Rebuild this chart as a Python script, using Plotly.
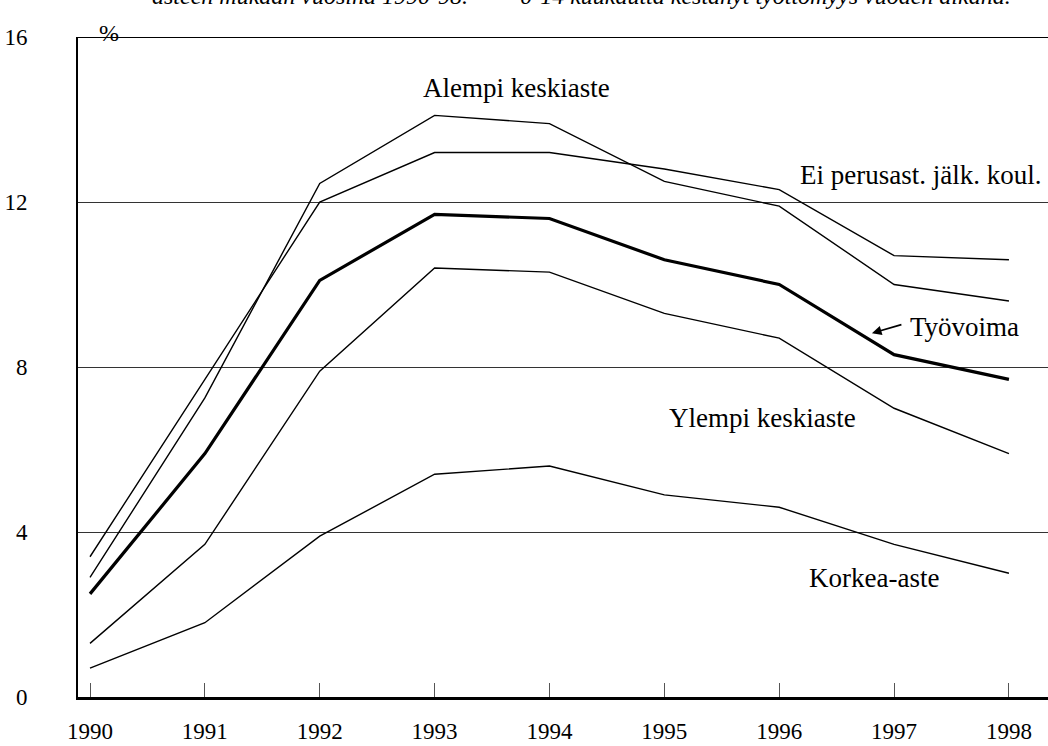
import plotly.graph_objects as go

# Anni
anni = [1990, 1991, 1992, 1993, 1994, 1995, 1996, 1997, 1998]

# Serie (%)
alempi_keskiaste = [2.9, 7.25, 12.45, 14.1, 13.9, 12.5, 11.9, 10.0, 9.6]
ei_perusast = [3.4, 7.7, 12.0, 13.2, 13.2, 12.8, 12.3, 10.7, 10.6]
tyovoima = [2.5, 5.9, 10.1, 11.7, 11.6, 10.6, 10.0, 8.3, 7.7]
ylempi_keskiaste = [1.3, 3.7, 7.9, 10.4, 10.3, 9.3, 8.7, 7.0, 5.9]
korkea_aste = [0.7, 1.8, 3.9, 5.4, 5.6, 4.9, 4.6, 3.7, 3.0]

y_ticks = [0, 4, 8, 12, 16]

FONT = "Liberation Serif, Times New Roman, serif"

fig = go.Figure()

#linee sottili
for nome, serie in [("Alempi keskiaste", alempi_keskiaste),
                    ("Ei perusast. jälk. koul.", ei_perusast),
                    ("Ylempi keskiaste", ylempi_keskiaste),
                    ("Korkea-aste", korkea_aste)]:
    fig.add_trace(go.Scatter(x=anni, y=serie, name=nome, mode="lines",
                             line=dict(color="black", width=1.4)))

#linea spessa
fig.add_trace(go.Scatter(x=anni, y=tyovoima, name="Työvoima", mode="lines",
                         line=dict(color="black", width=3.2)))

etichette = [
    ("Alempi keskiaste", 1993.717, 14.76, "center"),
    ("Ei perusast. jälk. koul.", 1998.30, 12.65, "right"),
    ("Työvoima", 1997.12, 8.97, "left"),
    ("Ylempi keskiaste", 1995.02, 6.76, "left"),
    ("Korkea-aste", 1996.24, 2.88, "left"),
]
for testo, x, y, anchor in etichette:
    fig.add_annotation(x=x, y=y, text=testo, showarrow=False, xanchor=anchor,
                       font=dict(size=27, color="black", family=FONT))

#freccia verso Työvoima
fig.add_annotation(x=1996.807, y=8.82, text="", showarrow=True, ax=31, ay=-9,
                   arrowhead=2, arrowsize=1.2, arrowwidth=1.6, arrowcolor="black")

fig.add_annotation(xref="paper", yref="paper", x=0.0196, y=1.0288, text="%",
                   showarrow=False, font=dict(size=24, color="black", family=FONT))

#titolo tagliato in alto
fig.add_annotation(xref="paper", yref="paper", x=0.519, y=1.040, yanchor="bottom",
                   text="<i>asteen mukaan vuosina 1990-98.     = 0-14 kuukautta kestänyt työttömyys vuoden aikana.</i>",
                   showarrow=False, font=dict(size=24, color="black", family=FONT))

#bordo superiore
fig.add_shape(type="line", xref="paper", yref="y", x0=0, x1=1, y0=16, y1=16,
              line=dict(color="black", width=2))

fig.update_xaxes(range=[1989.8955, 1998.34], tickvals=anni, ticks="inside", ticklen=14,
                 tickcolor="#555", tickwidth=1, showgrid=False, zeroline=False,
                 showline=True, linecolor="black", linewidth=3,
                 ticklabelstandoff=11,
                 tickfont=dict(size=23, color="black", family=FONT))
fig.update_yaxes(range=[0, 16], tickvals=y_ticks, ticks="", showgrid=True,
                 gridcolor="#333", gridwidth=1.3, zeroline=False,
                 showline=True, linecolor="black", linewidth=2,
                 ticklabelstandoff=44,
                 tickfont=dict(size=23, color="black", family=FONT))

fig.update_layout(
    width=1048, height=746,
    margin=dict(l=78, r=0, t=37, b=49),
    plot_bgcolor="white", paper_bgcolor="white",
    showlegend=False,
)

#toglie il margine della pagina
fig.write_html("out.html", config={"displayModeBar": False},
               post_script="document.body.style.margin='0';document.body.style.overflow='hidden';")
